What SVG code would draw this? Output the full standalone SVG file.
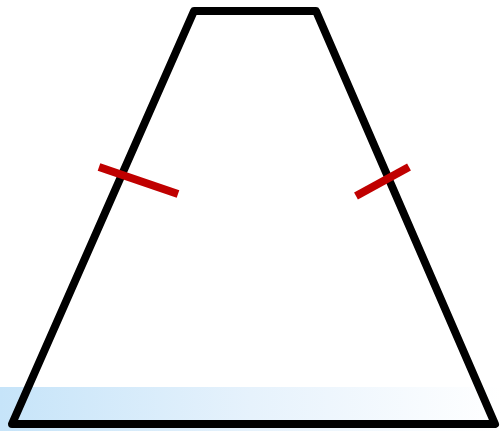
<svg xmlns="http://www.w3.org/2000/svg" width="501" height="431" viewBox="0 0 501 431">
<defs>
<linearGradient id="band" x1="0" y1="0" x2="1" y2="0">
<stop offset="0" stop-color="#c6e4f9"/>
<stop offset="0.5" stop-color="#e6f2fc"/>
<stop offset="1" stop-color="#ffffff"/>
</linearGradient>
<style>
.shape{fill:none;stroke:#000;stroke-width:8;stroke-linejoin:round}
.tick{stroke:#c00000;stroke-width:8}
</style>
</defs>
<rect x="0" y="0" width="501" height="431" fill="#fff"/>
<rect x="0" y="387" width="501" height="44" fill="url(#band)"/>
<g id="trapezoid">
<polygon class="shape" points="194,11 316,11 495,424 12,424"/>
</g>
<g id="ticks">
<line class="tick" x1="99" y1="167" x2="178" y2="194"/>
<line class="tick" x1="356" y1="196" x2="409" y2="167"/>
</g>
</svg>
